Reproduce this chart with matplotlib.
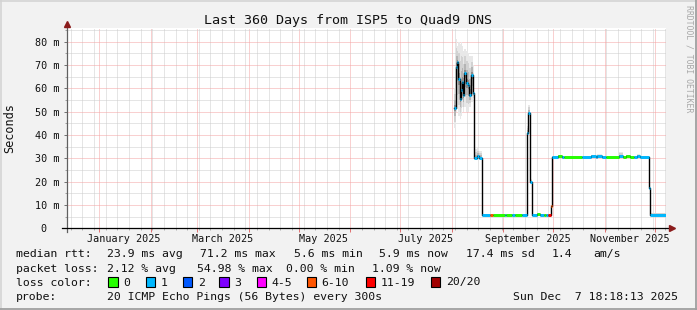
import matplotlib
matplotlib.use('Agg')
import matplotlib.pyplot as plt
import matplotlib.dates as mdates
import matplotlib.ticker as mticker
from matplotlib.patches import Rectangle
from matplotlib.lines import Line2D
import numpy as np
import pandas as pd

plt.rcParams['font.family'] = ['DejaVu Sans Mono']

# time window of the graph (last 360 days)
t_start = pd.Timestamp('2024-12-12 18:18:13')
t_end = pd.Timestamp('2025-12-07 18:18:13')

# median rtt steps (ms), loss class and smoke range (ms); each step lasts until the next one
step_start = ['2025-08-02 12:00', '2025-08-03 12:00', '2025-08-04 06:00', '2025-08-05 00:00',
              '2025-08-05 18:00', '2025-08-06 12:00', '2025-08-07 06:00', '2025-08-08 00:00',
              '2025-08-08 12:00', '2025-08-09 12:00', '2025-08-10 12:00', '2025-08-11 12:00',
              '2025-08-12 12:00', '2025-08-13 12:00', '2025-08-14 06:00', '2025-08-16 00:00',
              '2025-08-17 12:00', '2025-08-18 23:00', '2025-08-19 08:00', '2025-08-23 20:00',
              '2025-08-25 15:00', '2025-09-01 21:00', '2025-09-02 16:00', '2025-09-06 05:00',
              '2025-09-07 21:00', '2025-09-12 06:00', '2025-09-15 05:00', '2025-09-16 02:00',
              '2025-09-17 04:00', '2025-09-18 07:00', '2025-09-21 07:00', '2025-09-22 22:00',
              '2025-09-25 07:00', '2025-09-26 22:00', '2025-09-27 22:00', '2025-09-29 12:00',
              '2025-09-30 00:00', '2025-10-03 22:00', '2025-10-06 07:00', '2025-10-07 07:00',
              '2025-10-18 07:00', '2025-10-23 10:00', '2025-10-26 10:00', '2025-10-27 07:00',
              '2025-10-30 07:00', '2025-11-01 10:00', '2025-11-09 10:00', '2025-11-11 19:00',
              '2025-11-13 14:00', '2025-11-16 10:00', '2025-11-18 10:00', '2025-11-20 10:00',
              '2025-11-22 10:00', '2025-11-27 14:00', '2025-11-28 07:00']
median_ms = [51.4, 69.3, 71.2, 64.0, 55.4, 59.3, 62.8, 57.0,
             66.4, 62.1, 61.4, 57.1, 65.7, 58.1, 30.0, 30.8,
             30.3, 13.5, 5.8, 5.8, 5.8, 5.8, 5.8, 5.8,
             5.8, 5.8, 40.7, 49.3, 20.0, 5.8, 6.3, 5.8,
             5.8, 5.8, 5.8, 9.5, 30.4, 31.1, 30.4, 30.4,
             30.4, 31.0, 30.4, 31.0, 30.4, 30.4, 31.0, 30.4,
             31.0, 30.4, 30.4, 31.1, 30.4, 17.1, 5.8]
loss_class = [1, 1, 1, 1, 1, 1, 1, 1,
              1, 1, 1, 1, 1, 1, 1, 1,
              1, 1, 1, 5, 0, 1, 0, 1,
              0, 1, 1, 1, 1, 1, 0, 1,
              0, 1, 6, 5, 1, 0, 1, 0,
              1, 1, 1, 1, 1, 0, 1, 0,
              0, 0, 1, 1, 1, 1, 1]
smoke_lo = [43, 50, 51, 48, 47, 48, 52, 50,
            52, 50, 50, 52, 54, 56, 29.5, 30.0,
            29.8, 13.3, 5.6, 5.6, 5.6, 5.6, 5.6, 5.6,
            5.6, 5.6, 40.0, 48.0, 19.5, 5.6, 6.0, 5.6,
            5.6, 5.6, 5.6, 9.2, 30.0, 30.6, 30.0, 30.0,
            30.0, 30.6, 30.0, 30.6, 30.0, 30.0, 30.0, 30.0,
            30.6, 30.0, 30.0, 30.6, 30.0, 16.8, 5.6]
smoke_hi = [60, 81, 78, 80, 79, 80, 78, 76,
            77, 76, 75, 74, 74, 70, 34.0, 34.3,
            33.0, 14.0, 6.2, 6.3, 6.1, 6.1, 6.1, 6.1,
            6.1, 6.1, 44.0, 53.0, 21.0, 6.1, 6.6, 6.1,
            6.1, 6.1, 6.2, 10.0, 31.0, 31.6, 31.0, 31.0,
            31.0, 31.6, 31.0, 31.8, 31.0, 31.0, 32.6, 31.0,
            31.6, 31.0, 31.0, 31.8, 31.0, 17.6, 6.6]

loss_labels = ['0', '1', '2', '3', '4-5', '6-10', '11-19', '20/20']
loss_colors = ['#26ff00', '#00b8ff', '#0059ff', '#7e00ff', '#ff00ff', '#ff5500', '#ff0000', '#a10000']

legend_rtt = ['median rtt:', '23.9 ms avg', '71.2 ms max', '5.6 ms min', '5.9 ms now',
              '17.4 ms sd', '1.4', 'am/s']
legend_loss = ['packet loss:', '2.12 % avg', '54.98 % max', '0.00 % min', '1.09 % now']
probe_text = ['probe:', '20 ICMP Echo Pings (56 Bytes) every 300s', 'Sun Dec  7 18:18:13 2025']

W, H = 697, 310
fx = lambda px: px / W
fy = lambda py: 1 - py / H

fig = plt.figure(figsize=(W / 100, H / 100), dpi=100, facecolor='#f2f2f2')
ax = fig.add_axes([fx(67), fy(228.3), 599 / W, 200 / H])
ax.set_facecolor('white')

t = pd.to_datetime(step_start)
t_edges = t.append(pd.DatetimeIndex([t_end]))
med = np.array(median_ms)
lo = np.array(smoke_lo)
hi = np.array(smoke_hi)
med_e = np.append(med, med[-1])

# smoke: layered grey bands around the median
for frac, col in [(1.0, '#e8e8e8'), (0.7, '#d2d2d2'), (0.4, '#b4b4b4'), (0.15, '#8c8c8c')]:
    l = med - frac * (med - lo)
    h = med + frac * (hi - med)
    ax.fill_between(t_edges, np.append(l, l[-1]), np.append(h, h[-1]), step='post',
                    color=col, lw=0, zorder=2)

ax.step(t_edges, med_e, where='post', color='black', lw=1.0, zorder=3)
ax.hlines(med, t_edges[:-1], t_edges[1:], colors=[loss_colors[c] for c in loss_class],
          lw=2.1, zorder=4)

ax.set_xlim(t_start, t_end)
ax.set_ylim(0, 85.75)

# grid
ax.xaxis.set_major_locator(mdates.MonthLocator())
ax.xaxis.set_minor_locator(mdates.WeekdayLocator(byweekday=mdates.SU))
ax.xaxis.set_major_formatter(mticker.NullFormatter())
ax.yaxis.set_major_locator(mticker.MultipleLocator(10))
ax.yaxis.set_minor_locator(mticker.MultipleLocator(5))
ax.yaxis.set_major_formatter(mticker.FuncFormatter(lambda v, p: '0  ' if v == 0 else f'{v:.0f} m'))
ax.grid(which='minor', color='#cdcdcd', lw=0.72, dashes=(1, 1))
ax.grid(which='major', color='#f5a3a3', lw=0.72, dashes=(1, 1))
ax.set_axisbelow(True)

ax.tick_params(axis='x', which='major', length=3, width=0.7, color='#e07070', direction='out')
ax.tick_params(axis='x', which='minor', length=1.5, width=0.7, color='#b0b0b0', direction='out')
ax.tick_params(axis='y', which='major', length=2, width=0.7, color='#707070', direction='out',
               labelsize=7.3, pad=3.5, labelcolor='#111111')
ax.tick_params(axis='y', which='minor', length=1.5, width=0.7, color='#a0a0a0', direction='out')

# month labels centred in their month
sec = ax.secondary_xaxis('bottom')
sec.xaxis.set_major_locator(mdates.MonthLocator(bymonth=(1, 3, 5, 7, 9, 11), bymonthday=16))
sec.xaxis.set_major_formatter(mdates.DateFormatter('%B %Y'))
sec.tick_params(length=0, labelsize=7.3, pad=4, labelcolor='#111111')
sec.spines['bottom'].set_visible(False)

for s in ax.spines.values():
    s.set_visible(False)

# axes with arrows
ax.add_line(Line2D([0, 0], [-4 / 200, 1 + 3 / 200], transform=ax.transAxes, color='#606060',
                   lw=0.9, clip_on=False, zorder=5))
ax.add_line(Line2D([-5 / 599, 1 + 5 / 599], [0, 0], transform=ax.transAxes, color='black',
                   lw=0.9, clip_on=False, zorder=5))
ax.plot([0], [1 + 4.5 / 200], marker='^', ms=4.5, color='#8b1c1c', transform=ax.transAxes,
        clip_on=False, zorder=6)
ax.plot([1 + 6 / 599], [0], marker='>', ms=4.5, color='#8b1c1c', transform=ax.transAxes,
        clip_on=False, zorder=6)

# texts
fig.text(0.5, fy(24), 'Last 360 Days from ISP5 to Quad9 DNS', ha='center', va='baseline',
         fontsize=9.6, color='#111111')
fig.text(fx(10), fy(128), 'Seconds', rotation=90, ha='center', va='center', fontsize=8.6,
         color='#111111')
fig.text(fx(688.5), fy(59), 'RRDTOOL / TOBI OETIKER', rotation=270, ha='center', va='center',
         fontsize=5.9, color='#a8a8a8')

lg = dict(ha='left', va='baseline', fontsize=8.25, color='#111111')
for s, x in zip(legend_rtt, [16, 107.3, 200, 293.5, 379.3, 465.7, 551.7, 593.3]):
    fig.text(fx(x), fy(257.3), s, **lg)
for s, x in zip(legend_loss, [16, 107.3, 196.7, 286, 372.3]):
    fig.text(fx(x), fy(271.7), s, **lg)
fig.text(fx(16), fy(285.5), 'loss color:', **lg)
box_x = [108.3, 145.7, 182.7, 219.3, 256.7, 306.7, 365.7, 430.7]
for s, c, x in zip(loss_labels, loss_colors, box_x):
    fig.add_artist(Rectangle((fx(x), fy(286.7)), 9.3 / W, 9.5 / H, transform=fig.transFigure,
                             facecolor=c, edgecolor='black', lw=0.8))
    fig.text(fx(x + 15), fy(285.5), s, **lg)
for s, x in zip(probe_text, [16, 107.3, 513.3]):
    fig.text(fx(x), fy(299.5), s, **lg)

# frame shading
fig.add_artist(Line2D([0, 1], [fy(0.7), fy(0.7)], color='#d4d4d4', lw=1.2))
fig.add_artist(Line2D([fx(0.7), fx(0.7)], [0, 1], color='#d4d4d4', lw=1.2))
fig.add_artist(Line2D([0, 1], [fy(309.2), fy(309.2)], color='#a0a0a0', lw=1.3))
fig.add_artist(Line2D([fx(696.2), fx(696.2)], [0, 1], color='#a0a0a0', lw=1.3))

fig.savefig('out.png', dpi=100, facecolor=fig.get_facecolor())
